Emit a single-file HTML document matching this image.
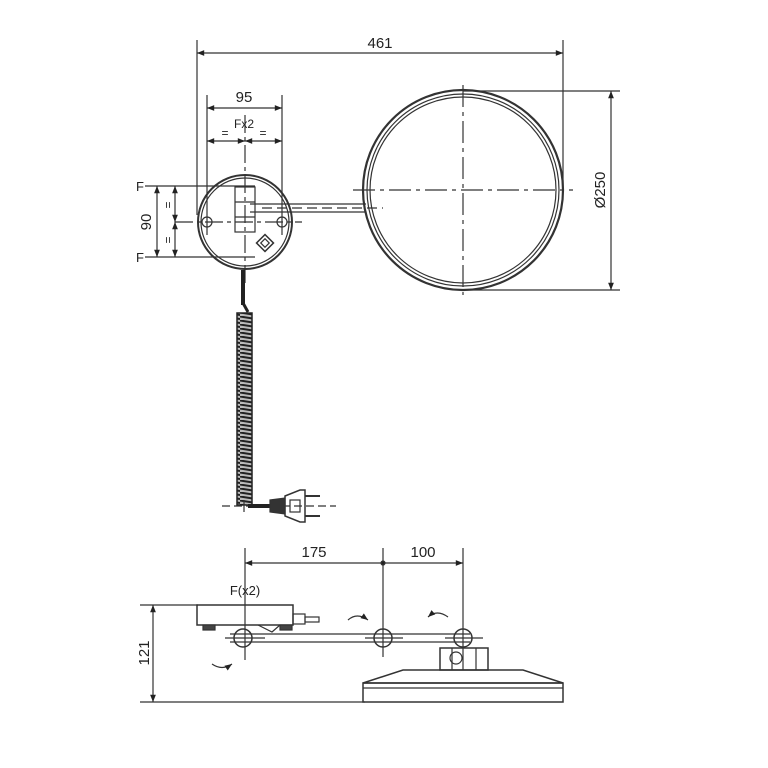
<!DOCTYPE html>
<html><head><meta charset="utf-8"><style>
html,body{margin:0;padding:0;background:#fff;}
svg{display:block;font-family:"Liberation Sans",sans-serif;}
</style></head><body>
<svg width="768" height="768" viewBox="0 0 768 768" xmlns="http://www.w3.org/2000/svg">
<defs>
<marker id="a" viewBox="0 0 10 10" refX="10" refY="5" markerWidth="8" markerHeight="6" orient="auto-start-reverse"><path d="M0,1 L10,5 L0,9 z" fill="#222"/></marker>
<pattern id="coil" width="16" height="4" patternUnits="userSpaceOnUse"><rect width="16" height="4" fill="#bbb"/><path d="M0,0.5 L16,3" stroke="#222" stroke-width="2"/></pattern>
</defs>
<g stroke="#333" stroke-width="1.2" fill="none">
<line x1="197" y1="40" x2="197" y2="215"/>
<line x1="563" y1="40" x2="563" y2="190"/>
<line x1="197" y1="53" x2="563" y2="53" marker-start="url(#a)" marker-end="url(#a)"/>
<circle cx="463" cy="190" r="100" stroke-width="2.2"/>
<circle cx="463" cy="190" r="96"/>
<circle cx="463" cy="190" r="93"/>
<line x1="353" y1="190" x2="573" y2="190" stroke-dasharray="22,5,4,5"/>
<line x1="463" y1="85" x2="463" y2="295" stroke-dasharray="22,5,4,5"/>
<line x1="463" y1="91" x2="620" y2="91"/>
<line x1="463" y1="290" x2="620" y2="290"/>
<line x1="611" y1="91" x2="611" y2="290" marker-start="url(#a)" marker-end="url(#a)"/>
<line x1="250" y1="204" x2="366" y2="204"/>
<line x1="250" y1="212" x2="365" y2="212"/>
<line x1="262" y1="208" x2="383" y2="208" stroke-dasharray="10,5"/>
<circle cx="245" cy="222" r="47" stroke-width="2"/>
<circle cx="245" cy="222" r="44"/>
<circle cx="207" cy="222" r="5"/>
<circle cx="282" cy="222" r="5"/>
<rect x="235" y="187" width="20" height="45"/>
<line x1="235" y1="202" x2="255" y2="202"/>
<line x1="235" y1="217" x2="255" y2="217"/>
<rect x="259" y="237" width="12" height="12" transform="rotate(45 265 243)" stroke-width="1.5"/>
<rect x="262" y="240" width="6" height="6" transform="rotate(45 265 243)"/>
<line x1="245" y1="115" x2="245" y2="285" stroke-dasharray="18,4,4,4"/>
<line x1="175" y1="222" x2="302" y2="222" stroke-dasharray="18,4,4,4"/>
<line x1="207" y1="95" x2="207" y2="235"/>
<line x1="282" y1="95" x2="282" y2="235"/>
<line x1="207" y1="108" x2="282" y2="108" marker-start="url(#a)" marker-end="url(#a)"/>
<line x1="207" y1="141" x2="245" y2="141" marker-start="url(#a)" marker-end="url(#a)"/>
<line x1="245" y1="141" x2="282" y2="141" marker-start="url(#a)" marker-end="url(#a)"/>
<line x1="145" y1="186" x2="255" y2="186"/>
<line x1="145" y1="257" x2="255" y2="257"/>
<line x1="157" y1="186" x2="157" y2="257" marker-start="url(#a)" marker-end="url(#a)"/>
<line x1="175" y1="186" x2="175" y2="222" marker-start="url(#a)" marker-end="url(#a)"/>
<line x1="175" y1="222" x2="175" y2="257" marker-start="url(#a)" marker-end="url(#a)"/>
<line x1="243" y1="270" x2="243" y2="305" stroke="#222" stroke-width="4"/>
<path d="M243,303 L248,312" stroke="#222" stroke-width="3"/>
<rect x="237" y="313" width="15" height="192" fill="url(#coil)" stroke="#222" stroke-width="1.5"/>
<line x1="222" y1="506" x2="336" y2="506" stroke-dasharray="8,4"/>
<line x1="244" y1="500" x2="244" y2="512"/>
<line x1="248" y1="506" x2="272" y2="506" stroke="#222" stroke-width="4"/>
<path d="M270,500 L285,498 L285,514 L270,512 z" fill="#333"/>
<path d="M285,496 L300,490 L305,490 L305,522 L300,522 L285,516 z" stroke-width="1.5"/>
<rect x="290" y="500" width="10" height="12"/>
<line x1="305" y1="496" x2="320" y2="496" stroke-width="2"/>
<line x1="305" y1="516" x2="320" y2="516" stroke-width="2"/>
<line x1="245" y1="548" x2="245" y2="660"/>
<line x1="383" y1="548" x2="383" y2="657"/>
<line x1="463" y1="548" x2="463" y2="670"/>
<line x1="245" y1="563" x2="383" y2="563" marker-start="url(#a)"/>
<line x1="383" y1="563" x2="463" y2="563" marker-end="url(#a)"/>
<circle cx="383" cy="563" r="2" fill="#222"/>
<line x1="140" y1="605" x2="198" y2="605"/>
<line x1="140" y1="702" x2="365" y2="702"/>
<line x1="153" y1="605" x2="153" y2="702" marker-start="url(#a)" marker-end="url(#a)"/>
<rect x="197" y="605" width="96" height="20" stroke-width="1.5"/>
<rect x="203" y="625" width="12" height="5" fill="#444"/>
<rect x="280" y="625" width="12" height="5" fill="#444"/>
<path d="M258,625 L272,632 L280,625" />
<rect x="293" y="614" width="12" height="10"/>
<rect x="305" y="617" width="14" height="5"/>
<line x1="230" y1="634" x2="470" y2="634"/>
<line x1="230" y1="642" x2="470" y2="642"/>
<line x1="225" y1="638" x2="265" y2="638"/>
<line x1="365" y1="638" x2="403" y2="638"/>
<line x1="445" y1="638" x2="483" y2="638"/>
<circle cx="243" cy="638" r="9" stroke-width="1.5"/>
<circle cx="383" cy="638" r="9" stroke-width="1.5"/>
<circle cx="463" cy="638" r="9" stroke-width="1.5"/>
<rect x="440" y="648" width="48" height="22" stroke-width="1.5"/>
<line x1="452" y1="648" x2="452" y2="670"/>
<line x1="476" y1="648" x2="476" y2="670"/>
<circle cx="456" cy="658" r="6"/>
<path d="M403,670 L523,670 L563,683 L363,683 z" stroke-width="1.5"/>
<rect x="363" y="683" width="200" height="19" stroke-width="1.5"/>
<line x1="363" y1="688" x2="563" y2="688"/>
<path d="M348,620 Q357,612 368,620" marker-end="url(#a)"/>
<path d="M428,617 Q437,609 448,617" marker-start="url(#a)"/>
<path d="M212,664 Q222,671 232,664" marker-end="url(#a)"/>
</g>
<g fill="#222" font-size="15" text-anchor="middle">
<text x="380" y="48">461</text>
<text x="244" y="102">95</text>
<text x="244" y="128" font-size="12">Fx2</text>
<text x="225" y="137" font-size="12">=</text>
<text x="263" y="137" font-size="12">=</text>
<text x="140" y="191" font-size="13">F</text>
<text x="140" y="262" font-size="13">F</text>
<text x="0" y="0" transform="translate(151,222) rotate(-90)">90</text>
<text x="0" y="0" font-size="12" transform="translate(172,205) rotate(-90)">=</text>
<text x="0" y="0" font-size="12" transform="translate(172,240) rotate(-90)">=</text>
<text x="0" y="0" transform="translate(605,190) rotate(-90)">Ø250</text>
<text x="314" y="557">175</text>
<text x="423" y="557">100</text>
<text x="245" y="595" font-size="13">F(x2)</text>
<text x="0" y="0" transform="translate(149,653) rotate(-90)">121</text>
</g>
</svg>
</body></html>
